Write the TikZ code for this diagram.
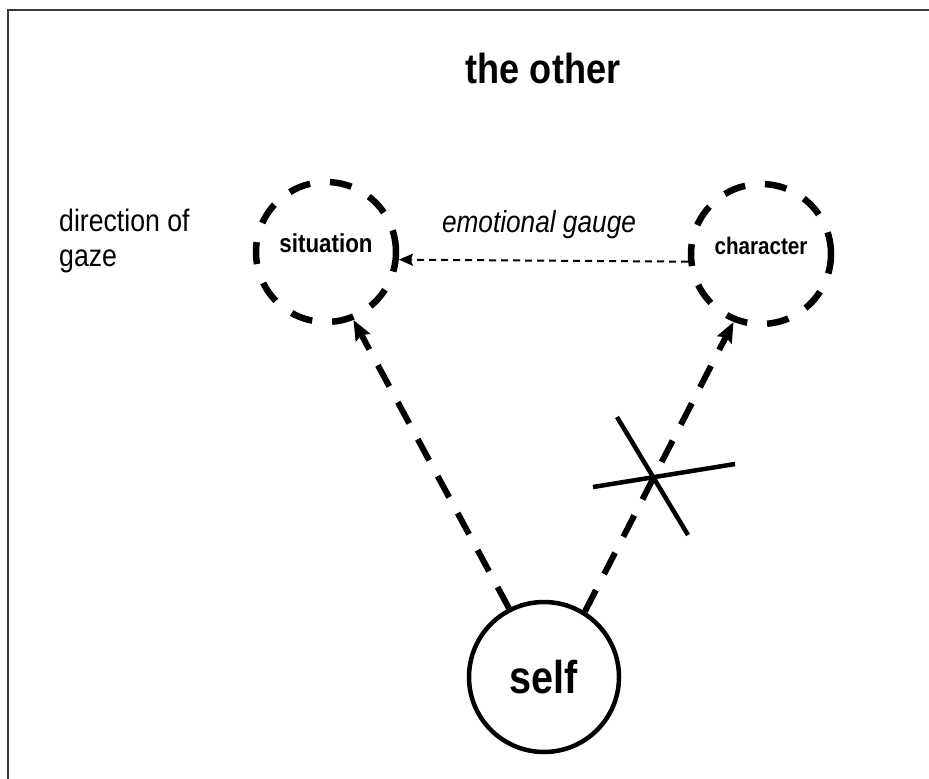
\documentclass[tikz,border=0pt]{standalone}
\usepackage{fontspec}
\usepackage{xcolor}
\usepackage{tikz}
\usetikzlibrary{arrows.meta,positioning}
\newfontfamily\gazefont{Liberation Sans}[FakeStretch=0.86]
\definecolor{framegray}{HTML}{3A3A3A}
\definecolor{inkblack}{HTML}{000000}
\tikzset{
    gazecircle/.style={circle, draw=inkblack, line width=6.5pt, dash pattern=on 22pt off 20pt, minimum size=140pt, inner sep=0pt, text height=18pt, text depth=18pt},
    selfcircle/.style={circle, draw=inkblack, line width=4.5pt, minimum size=150pt, inner sep=0pt},
    gazearrow/.style={draw=inkblack, line width=6pt, dash pattern=on 24pt off 18pt, -{Stealth[length=20pt,width=16pt,inset=3pt]}},
    gaugearrow/.style={draw=inkblack, line width=2pt, dash pattern=on 7pt off 5pt, -{Stealth[length=14pt,width=12pt,inset=2pt]}},
    crossline/.style={draw=inkblack, line width=4.5pt}
}

\begin{document}
\begin{tikzpicture}[x=1pt, y=-1pt, font=\gazefont]
    \useasboundingbox (0,0) rectangle (929,779);
    % Frame
    \draw[framegray, line width=2pt] (929,10) -- (7.5,10) -- (7.5,779);

    % Title
    \node[anchor=base, font=\gazefont\fontsize{42}{50}\selectfont\bfseries] (other) at (543,83) {the other};

    % Side note
    \node[anchor=north west, align=left, inner sep=0pt, font=\gazefont\fontsize{31}{35}\selectfont] (gaze) at (59,209) {direction of\\gaze};

    % Situation and character
    \node[gazecircle, font=\gazefont\fontsize{26}{30}\selectfont\bfseries] (situation) at (326,252) {situation};
    \node[gazecircle, font=\gazefont\fontsize{24}{28}\selectfont\bfseries] (character) at (761,254) {character};

    % Emotional gauge
    \node[anchor=base, font=\gazefont\fontsize{30.5}{35}\selectfont\itshape] (gauge) at (539,232) {emotional gauge};
    \draw[gaugearrow] (character.186) -- (situation.-6);

    % Self
    \node[selfcircle, font=\gazefont\fontsize{46}{54}\selectfont\bfseries] (self) at (544,677) {self};

    % Gaze lines
    \draw[gazearrow] (self.117) -- (situation.292);
    \draw[gazearrow] (self.58) -- (character.248);

    % Cross on the line to the character
    \coordinate (cut) at (654,478);
    \draw[crossline] (cut) ++(-37,-61) -- ++(71,118);
    \draw[crossline] (cut) ++(-61,9) -- ++(142,-23);
\end{tikzpicture}
\end{document}
